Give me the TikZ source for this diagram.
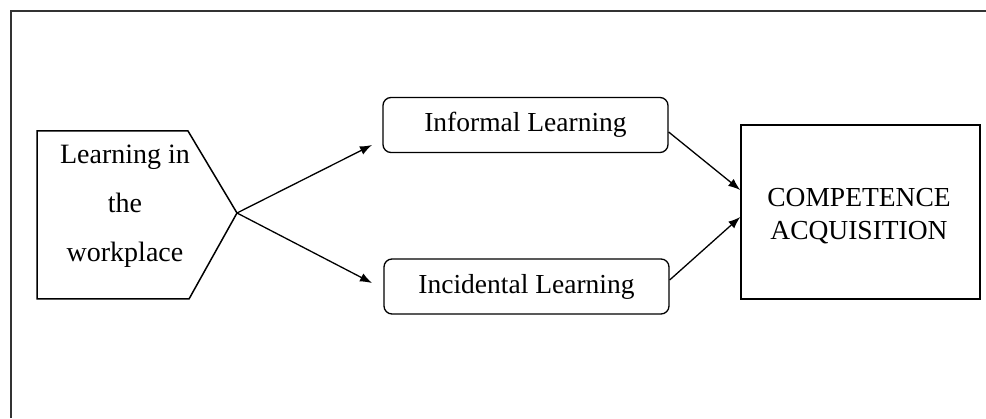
\documentclass[tikz,border=0pt]{standalone}
\usepackage{fontspec}
\setmainfont{Liberation Serif}
\usetikzlibrary{arrows.meta}

\begin{document}
\begin{tikzpicture}[x=1pt,y=1pt,font=\fontsize{27.5}{33}\selectfont, >={Latex[length=12pt,width=9pt]}]
    \tikzstyle{round box}=[draw,line width=1.3pt,rounded corners=8pt,minimum width=285,minimum height=55,inner sep=0]
    \tikzstyle{square box}=[draw,line width=1.5pt,minimum width=239,minimum height=174,inner sep=0]
    \tikzstyle{link}=[->,line width=1.3pt]

    \useasboundingbox (0,0) rectangle (986,418);
    \draw[line width=2.5pt,color=black!80] (11,0) -- (11,407) -- (986,407);

    \draw[line width=1.5pt] (37,287) -- (188,287) -- (237,205) -- (189,119) -- (37,119) -- cycle;
    \coordinate (tip) at (237,205);
    \node(0)[align=center,font=\fontsize{28}{49}\selectfont] at (125,212) {Learning in\\the\\workplace};

    \node(1)[round box] at (525.5,293) {Informal Learning};
    \node(2)[round box] at (526.5,131.5) {Incidental Learning};
    \node(3)[square box] at (860.5,206) {};
    \node(4)[align=center] at (859,202) {COMPETENCE\\ACQUISITION};

    \coordinate (a1) at (372,273);
    \coordinate (a2) at (372,135);
    \draw[link] (tip) -- (a1);
    \draw[link] (tip) -- (a2);
    \draw[link] ([yshift=-7]1.east) -- ([yshift=22]3.west);
    \draw[link] ([yshift=6.5]2.east) -- ([yshift=-5]3.west);
\end{tikzpicture}
\end{document}
